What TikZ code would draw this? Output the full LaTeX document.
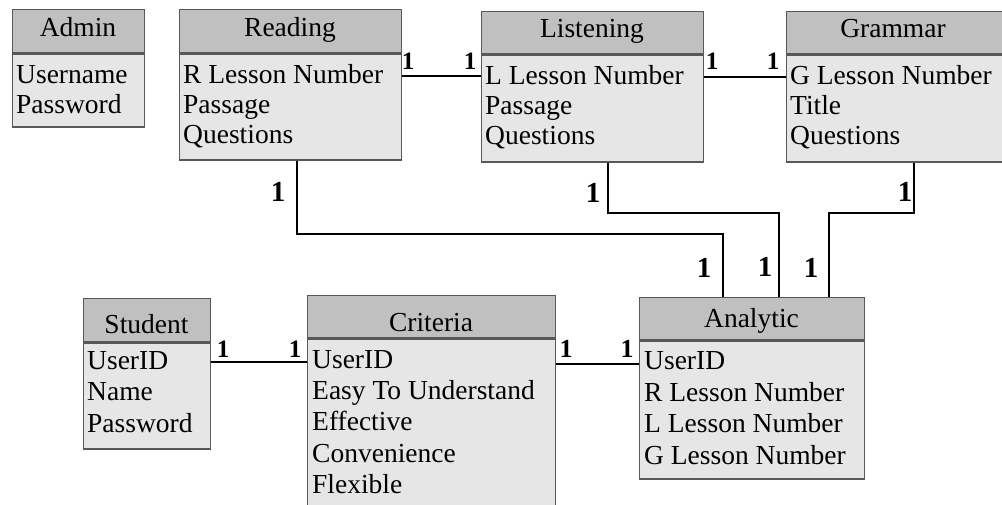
\documentclass[tikz,border=0pt]{standalone}
\usepackage{fontspec}
\setmainfont{Liberation Serif}
\definecolor{hdrgray}{HTML}{C0C0C0}
\definecolor{bodygray}{HTML}{E6E6E6}
\definecolor{edgegray}{HTML}{585858}
\tikzset{
  hdr/.style={draw=edgegray, fill=hdrgray, line width=1.3pt, rectangle, anchor=north west, inner sep=0pt},
  bodybox/.style={draw=edgegray, fill=bodygray, line width=1.3pt, rectangle, anchor=north west, inner sep=0pt},
  ttl/.style={anchor=base, inner sep=0pt, font=\fontsize{27.5}{30}\selectfont},
  fld/.style={anchor=base west, inner sep=0pt, font=\fontsize{27.5}{30}\selectfont},
  conn/.style={draw=black, line width=1.8pt},
  card/.style={inner sep=0pt, font=\bfseries\fontsize{#1}{#1}\selectfont},
  card/.default=25
}
\begin{document}
\begin{tikzpicture}[x=1pt,y=-1pt]
\useasboundingbox (0,0) rectangle (1002,505);
\clip (0,0) rectangle (1002,505);

% Admin
\node[hdr, minimum width=132pt, minimum height=43pt] (admin) at (12,9) {};
\node[bodybox, minimum width=132pt, minimum height=73pt] (adminb) at (admin.south west) {};
\node[ttl] (admint) at (78,37) {Admin};
\foreach \t [count=\i] in {Username, Password}
  \node[fld] (adminf\i) at ([xshift=4pt, yshift={-30pt-(\i-1)*30pt}]adminb.north west) {\t};

% Reading
\node[hdr, minimum width=222pt, minimum height=43pt] (reading) at (179,9) {};
\node[bodybox, minimum width=222pt, minimum height=106pt] (readingb) at (reading.south west) {};
\node[ttl] (readingt) at (290,37) {Reading};
\foreach \t [count=\i] in {R Lesson Number, Passage, Questions}
  \node[fld] (readingf\i) at ([xshift=4pt, yshift={-30pt-(\i-1)*30pt}]readingb.north west) {\t};

% Listening
\node[hdr, minimum width=222pt, minimum height=42pt] (listening) at (481,11) {};
\node[bodybox, minimum width=222pt, minimum height=107pt] (listeningb) at (listening.south west) {};
\node[ttl] (listeningt) at (592,38) {Listening};
\foreach \t [count=\i] in {L Lesson Number, Passage, Questions}
  \node[fld] (listeningf\i) at ([xshift=4pt, yshift={-30pt-(\i-1)*30pt}]listeningb.north west) {\t};

% Grammar
\node[hdr, minimum width=224pt, minimum height=42pt] (grammar) at (786,11) {};
\node[bodybox, minimum width=224pt, minimum height=107pt] (grammarb) at (grammar.south west) {};
\node[ttl] (grammart) at (893,38) {Grammar};
\foreach \t [count=\i] in {G Lesson Number, Title, Questions}
  \node[fld] (grammarf\i) at ([xshift=4pt, yshift={-30pt-(\i-1)*30pt}]grammarb.north west) {\t};

% Student
\node[hdr, minimum width=127pt, minimum height=43pt] (student) at (83,298) {};
\node[bodybox, minimum width=127pt, minimum height=106pt] (studentb) at (student.south west) {};
\node[ttl] (studentt) at (146.5,334) {Student};
\foreach \t [count=\i] in {UserID, Name, Password}
  \node[fld] (studentf\i) at ([xshift=4pt, yshift={-27pt-(\i-1)*31.5pt}]studentb.north west) {\t};

% Criteria
\node[hdr, minimum width=248pt, minimum height=42pt] (criteria) at (307,295) {};
\node[bodybox, minimum width=248pt, minimum height=180pt] (criteriab) at (criteria.south west) {};
\node[ttl] (criteriat) at (431,331) {Criteria};
\foreach \t [count=\i] in {UserID, Easy To Understand, Effective, Convenience, Flexible}
  \node[fld] (criteriaf\i) at ([xshift=5pt, yshift={-30pt-(\i-1)*31.3pt}]criteriab.north west) {\t};

% Analytic
\node[hdr, minimum width=225pt, minimum height=42pt] (analytic) at (639,297) {};
\node[bodybox, minimum width=225pt, minimum height=138pt] (analyticb) at (analytic.south west) {};
\node[ttl] (analytict) at (751.5,327) {Analytic};
\foreach \t [count=\i] in {UserID, R Lesson Number, L Lesson Number, G Lesson Number}
  \node[fld] (analyticf\i) at ([xshift=5pt, yshift={-29pt-(\i-1)*31.7pt}]analyticb.north west) {\t};

% horizontal connectors
\coordinate (rl) at ([yshift=-23pt]readingb.north east);
\draw[conn] (rl) -- (rl -| listeningb.west);
\coordinate (lg) at ([yshift=-23pt]listeningb.north east);
\draw[conn] (lg) -- (lg -| grammarb.west);
\coordinate (sc) at ([yshift=-20pt]studentb.north east);
\draw[conn] (sc) -- (sc -| criteriab.west);
\coordinate (ca) at ([yshift=-24pt]analyticb.north west);
\draw[conn] (ca -| criteriab.east) -- (ca);

% drop connectors to Analytic
\coordinate (rd) at ([xshift=118pt]readingb.south west);
\coordinate (ra) at ([xshift=84pt]analytic.north west);
\draw[conn] (rd) -- (rd |- 0,234) -| (ra);
\coordinate (ld) at ([xshift=127pt]listeningb.south west);
\coordinate (la) at ([xshift=140pt]analytic.north west);
\draw[conn] (ld) -- (ld |- 0,213) -| (la);
\coordinate (gd) at ([xshift=128pt]grammarb.south west);
\coordinate (ga) at ([xshift=190pt]analytic.north west);
\draw[conn] (gd) -- (gd |- 0,213) -| (ga);

% cardinalities
\node[card] (c1) at (408,61) {1};
\node[card] (c2) at (470,61) {1};
\node[card] (c3) at (712,61) {1};
\node[card] (c4) at (773,61) {1};
\node[card] (c5) at (223,349) {1};
\node[card] (c6) at (295,349) {1};
\node[card=26] (c7) at (566,349) {1};
\node[card=26] (c8) at (627,349) {1};
\node[card=29] (c9) at (278,192) {1};
\node[card=29] (c10) at (593,193) {1};
\node[card=29] (c11) at (905,192) {1};
\node[card=29] (c12) at (704,268) {1};
\node[card=29] (c13) at (765,267) {1};
\node[card=29] (c14) at (811,268) {1};
\end{tikzpicture}
\end{document}
